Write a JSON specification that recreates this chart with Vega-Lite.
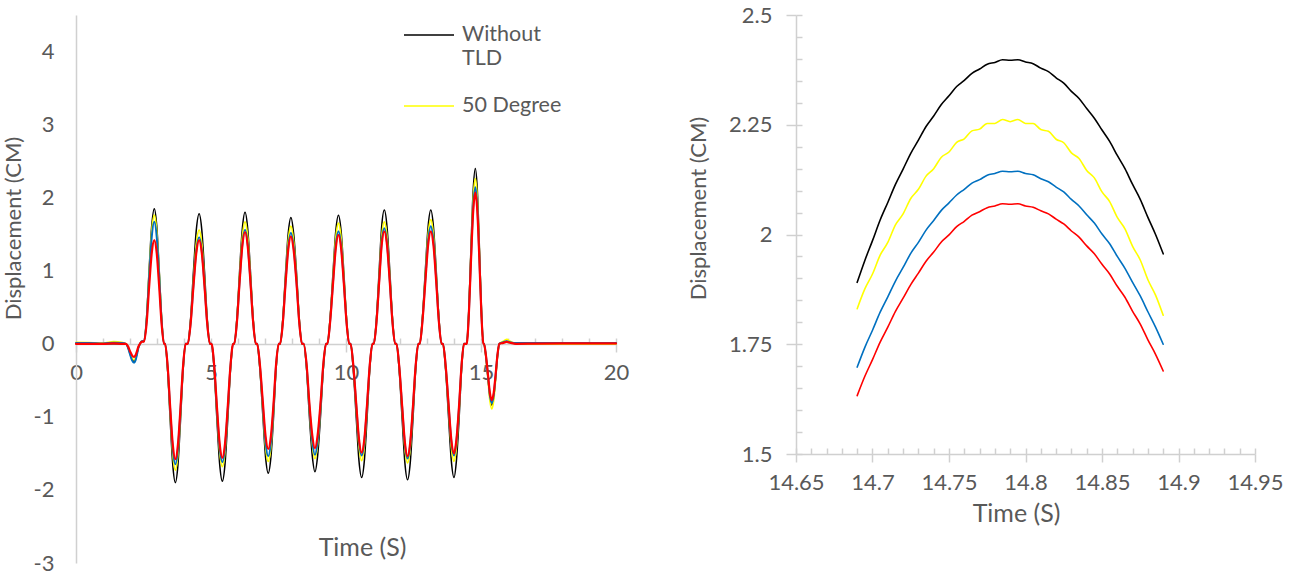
{
  "$schema": "https://vega.github.io/schema/vega-lite/v6.json",
  "background": "white",
  "padding": {"left": 2, "top": 4, "right": 5, "bottom": 5},
  "config": {
    "font": "Lato",
    "view": {"stroke": null},
    "axis": {
      "grid": false,
      "labelFont": "Lato",
      "labelFontSize": 22,
      "labelColor": "#595959",
      "labelFlush": false,
      "labelOverlap": false,
      "titleFont": "Lato",
      "titleFontSize": 22,
      "titleFontWeight": "normal",
      "titleColor": "#595959",
      "domainColor": "#D0D0D0",
      "domainWidth": 1.5,
      "tickColor": "#D0D0D0",
      "tickWidth": 1.5
    },
    "line": {"strokeJoin": "round", "strokeCap": "round"}
  },
  "datasets": {
    "full": [
      {"t": 0, "Without TLD": 0, "50 Degree": 0.02, "Series 3": 0.01, "Series 4": 0},
      {"t": 0.5, "Without TLD": 0, "50 Degree": 0.015, "Series 3": 0.01, "Series 4": 0},
      {"t": 1.0, "Without TLD": 0, "50 Degree": 0.01, "Series 3": 0.005, "Series 4": 0},
      {"t": 1.4, "Without TLD": 0, "50 Degree": 0.03, "Series 3": 0.015, "Series 4": 0.005},
      {"t": 1.7, "Without TLD": 0, "50 Degree": 0.02, "Series 3": 0.01, "Series 4": 0},
      {"t": 1.85, "Without TLD": 0, "50 Degree": 0, "Series 3": 0, "Series 4": 0},
      {"t": 1.925, "Without TLD": -0.047, "50 Degree": -0.043, "Series 3": -0.051, "Series 4": -0.035},
      {"t": 2.0, "Without TLD": -0.133, "50 Degree": -0.122, "Series 3": -0.144, "Series 4": -0.1},
      {"t": 2.075, "Without TLD": -0.21, "50 Degree": -0.192, "Series 3": -0.227, "Series 4": -0.157},
      {"t": 2.15, "Without TLD": -0.24, "50 Degree": -0.22, "Series 3": -0.26, "Series 4": -0.18},
      {"t": 2.205, "Without TLD": -0.21, "50 Degree": -0.192, "Series 3": -0.227, "Series 4": -0.157},
      {"t": 2.26, "Without TLD": -0.133, "50 Degree": -0.122, "Series 3": -0.144, "Series 4": -0.1},
      {"t": 2.315, "Without TLD": -0.047, "50 Degree": -0.043, "Series 3": -0.051, "Series 4": -0.035},
      {"t": 2.37, "Without TLD": 0, "50 Degree": 0, "Series 3": 0, "Series 4": 0},
      {"t": 2.45, "Without TLD": 0.03, "50 Degree": 0.04, "Series 3": 0.04, "Series 4": 0.03},
      {"t": 2.52, "Without TLD": 0.03, "50 Degree": 0.04, "Series 3": 0.04, "Series 4": 0.03},
      {"t": 2.615, "Without TLD": 0.363, "50 Degree": 0.345, "Series 3": 0.327, "Series 4": 0.278},
      {"t": 2.71, "Without TLD": 1.027, "50 Degree": 0.977, "Series 3": 0.927, "Series 4": 0.788},
      {"t": 2.805, "Without TLD": 1.617, "50 Degree": 1.538, "Series 3": 1.46, "Series 4": 1.241},
      {"t": 2.9, "Without TLD": 1.85, "50 Degree": 1.76, "Series 3": 1.67, "Series 4": 1.42},
      {"t": 2.99, "Without TLD": 1.617, "50 Degree": 1.538, "Series 3": 1.46, "Series 4": 1.241},
      {"t": 3.08, "Without TLD": 1.027, "50 Degree": 0.977, "Series 3": 0.927, "Series 4": 0.788},
      {"t": 3.17, "Without TLD": 0.363, "50 Degree": 0.345, "Series 3": 0.327, "Series 4": 0.278},
      {"t": 3.26, "Without TLD": 0, "50 Degree": 0, "Series 3": 0, "Series 4": 0},
      {"t": 3.3, "Without TLD": 0, "50 Degree": 0, "Series 3": 0, "Series 4": 0},
      {"t": 3.395, "Without TLD": -0.372, "50 Degree": -0.339, "Series 3": -0.323, "Series 4": -0.31},
      {"t": 3.49, "Without TLD": -1.055, "50 Degree": -0.96, "Series 3": -0.916, "Series 4": -0.877},
      {"t": 3.585, "Without TLD": -1.661, "50 Degree": -1.512, "Series 3": -1.442, "Series 4": -1.381},
      {"t": 3.68, "Without TLD": -1.9, "50 Degree": -1.73, "Series 3": -1.65, "Series 4": -1.58},
      {"t": 3.775, "Without TLD": -1.661, "50 Degree": -1.512, "Series 3": -1.442, "Series 4": -1.381},
      {"t": 3.87, "Without TLD": -1.055, "50 Degree": -0.96, "Series 3": -0.916, "Series 4": -0.877},
      {"t": 3.965, "Without TLD": -0.372, "50 Degree": -0.339, "Series 3": -0.323, "Series 4": -0.31},
      {"t": 4.06, "Without TLD": 0, "50 Degree": 0, "Series 3": 0, "Series 4": 0},
      {"t": 4.14, "Without TLD": 0, "50 Degree": 0, "Series 3": 0, "Series 4": 0},
      {"t": 4.245, "Without TLD": 0.349, "50 Degree": 0.306, "Series 3": 0.286, "Series 4": 0.278},
      {"t": 4.35, "Without TLD": 0.988, "50 Degree": 0.866, "Series 3": 0.81, "Series 4": 0.788},
      {"t": 4.455, "Without TLD": 1.556, "50 Degree": 1.363, "Series 3": 1.276, "Series 4": 1.241},
      {"t": 4.56, "Without TLD": 1.78, "50 Degree": 1.56, "Series 3": 1.46, "Series 4": 1.42},
      {"t": 4.66, "Without TLD": 1.556, "50 Degree": 1.363, "Series 3": 1.276, "Series 4": 1.241},
      {"t": 4.76, "Without TLD": 0.988, "50 Degree": 0.866, "Series 3": 0.81, "Series 4": 0.788},
      {"t": 4.86, "Without TLD": 0.349, "50 Degree": 0.306, "Series 3": 0.286, "Series 4": 0.278},
      {"t": 4.96, "Without TLD": 0, "50 Degree": 0, "Series 3": 0, "Series 4": 0},
      {"t": 5.02, "Without TLD": 0, "50 Degree": 0, "Series 3": 0, "Series 4": 0},
      {"t": 5.12, "Without TLD": -0.368, "50 Degree": -0.329, "Series 3": -0.318, "Series 4": -0.306},
      {"t": 5.22, "Without TLD": -1.043, "50 Degree": -0.932, "Series 3": -0.899, "Series 4": -0.866},
      {"t": 5.32, "Without TLD": -1.643, "50 Degree": -1.468, "Series 3": -1.416, "Series 4": -1.363},
      {"t": 5.42, "Without TLD": -1.88, "50 Degree": -1.68, "Series 3": -1.62, "Series 4": -1.56},
      {"t": 5.52, "Without TLD": -1.643, "50 Degree": -1.468, "Series 3": -1.416, "Series 4": -1.363},
      {"t": 5.62, "Without TLD": -1.043, "50 Degree": -0.932, "Series 3": -0.899, "Series 4": -0.866},
      {"t": 5.72, "Without TLD": -0.368, "50 Degree": -0.329, "Series 3": -0.318, "Series 4": -0.306},
      {"t": 5.82, "Without TLD": 0, "50 Degree": 0, "Series 3": 0, "Series 4": 0},
      {"t": 5.86, "Without TLD": 0, "50 Degree": 0, "Series 3": 0, "Series 4": 0},
      {"t": 5.96, "Without TLD": 0.353, "50 Degree": 0.327, "Series 3": 0.306, "Series 4": 0.3},
      {"t": 6.06, "Without TLD": 0.999, "50 Degree": 0.927, "Series 3": 0.866, "Series 4": 0.849},
      {"t": 6.16, "Without TLD": 1.573, "50 Degree": 1.46, "Series 3": 1.363, "Series 4": 1.337},
      {"t": 6.26, "Without TLD": 1.8, "50 Degree": 1.67, "Series 3": 1.56, "Series 4": 1.53},
      {"t": 6.36, "Without TLD": 1.573, "50 Degree": 1.46, "Series 3": 1.363, "Series 4": 1.337},
      {"t": 6.46, "Without TLD": 0.999, "50 Degree": 0.927, "Series 3": 0.866, "Series 4": 0.849},
      {"t": 6.56, "Without TLD": 0.353, "50 Degree": 0.327, "Series 3": 0.306, "Series 4": 0.3},
      {"t": 6.66, "Without TLD": 0, "50 Degree": 0, "Series 3": 0, "Series 4": 0},
      {"t": 6.71, "Without TLD": 0, "50 Degree": 0, "Series 3": 0, "Series 4": 0},
      {"t": 6.81, "Without TLD": -0.347, "50 Degree": -0.316, "Series 3": -0.302, "Series 4": -0.282},
      {"t": 6.92, "Without TLD": -0.982, "50 Degree": -0.894, "Series 3": -0.855, "Series 4": -0.799},
      {"t": 7.02, "Without TLD": -1.547, "50 Degree": -1.407, "Series 3": -1.346, "Series 4": -1.259},
      {"t": 7.12, "Without TLD": -1.77, "50 Degree": -1.61, "Series 3": -1.54, "Series 4": -1.44},
      {"t": 7.22, "Without TLD": -1.547, "50 Degree": -1.407, "Series 3": -1.346, "Series 4": -1.259},
      {"t": 7.32, "Without TLD": -0.982, "50 Degree": -0.894, "Series 3": -0.855, "Series 4": -0.799},
      {"t": 7.41, "Without TLD": -0.347, "50 Degree": -0.316, "Series 3": -0.302, "Series 4": -0.282},
      {"t": 7.51, "Without TLD": 0, "50 Degree": 0, "Series 3": 0, "Series 4": 0},
      {"t": 7.56, "Without TLD": 0, "50 Degree": 0, "Series 3": 0, "Series 4": 0},
      {"t": 7.66, "Without TLD": 0.339, "50 Degree": 0.316, "Series 3": 0.298, "Series 4": 0.288},
      {"t": 7.76, "Without TLD": 0.96, "50 Degree": 0.894, "Series 3": 0.844, "Series 4": 0.816},
      {"t": 7.86, "Without TLD": 1.512, "50 Degree": 1.407, "Series 3": 1.328, "Series 4": 1.285},
      {"t": 7.96, "Without TLD": 1.73, "50 Degree": 1.61, "Series 3": 1.52, "Series 4": 1.47},
      {"t": 8.06, "Without TLD": 1.512, "50 Degree": 1.407, "Series 3": 1.328, "Series 4": 1.285},
      {"t": 8.17, "Without TLD": 0.96, "50 Degree": 0.894, "Series 3": 0.844, "Series 4": 0.816},
      {"t": 8.27, "Without TLD": 0.339, "50 Degree": 0.316, "Series 3": 0.298, "Series 4": 0.288},
      {"t": 8.37, "Without TLD": 0, "50 Degree": 0, "Series 3": 0, "Series 4": 0},
      {"t": 8.43, "Without TLD": 0, "50 Degree": 0, "Series 3": 0, "Series 4": 0},
      {"t": 8.54, "Without TLD": -0.343, "50 Degree": -0.308, "Series 3": -0.298, "Series 4": -0.28},
      {"t": 8.64, "Without TLD": -0.971, "50 Degree": -0.871, "Series 3": -0.844, "Series 4": -0.794},
      {"t": 8.75, "Without TLD": -1.53, "50 Degree": -1.372, "Series 3": -1.328, "Series 4": -1.25},
      {"t": 8.85, "Without TLD": -1.75, "50 Degree": -1.57, "Series 3": -1.52, "Series 4": -1.43},
      {"t": 8.95, "Without TLD": -1.53, "50 Degree": -1.372, "Series 3": -1.328, "Series 4": -1.25},
      {"t": 9.06, "Without TLD": -0.971, "50 Degree": -0.871, "Series 3": -0.844, "Series 4": -0.794},
      {"t": 9.16, "Without TLD": -0.343, "50 Degree": -0.308, "Series 3": -0.298, "Series 4": -0.28},
      {"t": 9.26, "Without TLD": 0, "50 Degree": 0, "Series 3": 0, "Series 4": 0},
      {"t": 9.31, "Without TLD": 0, "50 Degree": 0, "Series 3": 0, "Series 4": 0},
      {"t": 9.41, "Without TLD": 0.345, "50 Degree": 0.323, "Series 3": 0.302, "Series 4": 0.292},
      {"t": 9.52, "Without TLD": 0.977, "50 Degree": 0.916, "Series 3": 0.855, "Series 4": 0.827},
      {"t": 9.62, "Without TLD": 1.538, "50 Degree": 1.442, "Series 3": 1.346, "Series 4": 1.302},
      {"t": 9.72, "Without TLD": 1.76, "50 Degree": 1.65, "Series 3": 1.54, "Series 4": 1.49},
      {"t": 9.82, "Without TLD": 1.538, "50 Degree": 1.442, "Series 3": 1.346, "Series 4": 1.302},
      {"t": 9.92, "Without TLD": 0.977, "50 Degree": 0.916, "Series 3": 0.855, "Series 4": 0.827},
      {"t": 10.02, "Without TLD": 0.345, "50 Degree": 0.323, "Series 3": 0.302, "Series 4": 0.292},
      {"t": 10.12, "Without TLD": 0, "50 Degree": 0, "Series 3": 0, "Series 4": 0},
      {"t": 10.17, "Without TLD": 0, "50 Degree": 0, "Series 3": 0, "Series 4": 0},
      {"t": 10.27, "Without TLD": -0.359, "50 Degree": -0.314, "Series 3": -0.3, "Series 4": -0.292},
      {"t": 10.38, "Without TLD": -1.016, "50 Degree": -0.888, "Series 3": -0.849, "Series 4": -0.827},
      {"t": 10.48, "Without TLD": -1.599, "50 Degree": -1.398, "Series 3": -1.337, "Series 4": -1.302},
      {"t": 10.58, "Without TLD": -1.83, "50 Degree": -1.6, "Series 3": -1.53, "Series 4": -1.49},
      {"t": 10.68, "Without TLD": -1.599, "50 Degree": -1.398, "Series 3": -1.337, "Series 4": -1.302},
      {"t": 10.78, "Without TLD": -1.016, "50 Degree": -0.888, "Series 3": -0.849, "Series 4": -0.827},
      {"t": 10.88, "Without TLD": -0.359, "50 Degree": -0.314, "Series 3": -0.3, "Series 4": -0.292},
      {"t": 10.98, "Without TLD": 0, "50 Degree": 0, "Series 3": 0, "Series 4": 0},
      {"t": 11.03, "Without TLD": 0, "50 Degree": 0, "Series 3": 0, "Series 4": 0},
      {"t": 11.13, "Without TLD": 0.359, "50 Degree": 0.327, "Series 3": 0.31, "Series 4": 0.302},
      {"t": 11.23, "Without TLD": 1.016, "50 Degree": 0.927, "Series 3": 0.877, "Series 4": 0.855},
      {"t": 11.32, "Without TLD": 1.599, "50 Degree": 1.46, "Series 3": 1.381, "Series 4": 1.346},
      {"t": 11.42, "Without TLD": 1.83, "50 Degree": 1.67, "Series 3": 1.58, "Series 4": 1.54},
      {"t": 11.52, "Without TLD": 1.599, "50 Degree": 1.46, "Series 3": 1.381, "Series 4": 1.346},
      {"t": 11.62, "Without TLD": 1.016, "50 Degree": 0.927, "Series 3": 0.877, "Series 4": 0.855},
      {"t": 11.72, "Without TLD": 0.359, "50 Degree": 0.327, "Series 3": 0.31, "Series 4": 0.302},
      {"t": 11.82, "Without TLD": 0, "50 Degree": 0, "Series 3": 0, "Series 4": 0},
      {"t": 11.87, "Without TLD": 0, "50 Degree": 0, "Series 3": 0, "Series 4": 0},
      {"t": 11.97, "Without TLD": -0.365, "50 Degree": -0.319, "Series 3": -0.308, "Series 4": -0.302},
      {"t": 12.08, "Without TLD": -1.032, "50 Degree": -0.905, "Series 3": -0.871, "Series 4": -0.855},
      {"t": 12.18, "Without TLD": -1.626, "50 Degree": -1.425, "Series 3": -1.372, "Series 4": -1.346},
      {"t": 12.28, "Without TLD": -1.86, "50 Degree": -1.63, "Series 3": -1.57, "Series 4": -1.54},
      {"t": 12.38, "Without TLD": -1.626, "50 Degree": -1.425, "Series 3": -1.372, "Series 4": -1.346},
      {"t": 12.48, "Without TLD": -1.032, "50 Degree": -0.905, "Series 3": -0.871, "Series 4": -0.855},
      {"t": 12.58, "Without TLD": -0.365, "50 Degree": -0.319, "Series 3": -0.308, "Series 4": -0.302},
      {"t": 12.68, "Without TLD": 0, "50 Degree": 0, "Series 3": 0, "Series 4": 0},
      {"t": 12.73, "Without TLD": 0, "50 Degree": 0, "Series 3": 0, "Series 4": 0},
      {"t": 12.83, "Without TLD": 0.359, "50 Degree": 0.333, "Series 3": 0.316, "Series 4": 0.302},
      {"t": 12.94, "Without TLD": 1.016, "50 Degree": 0.944, "Series 3": 0.894, "Series 4": 0.855},
      {"t": 13.04, "Without TLD": 1.599, "50 Degree": 1.486, "Series 3": 1.407, "Series 4": 1.346},
      {"t": 13.14, "Without TLD": 1.83, "50 Degree": 1.7, "Series 3": 1.61, "Series 4": 1.54},
      {"t": 13.24, "Without TLD": 1.599, "50 Degree": 1.486, "Series 3": 1.407, "Series 4": 1.346},
      {"t": 13.34, "Without TLD": 1.016, "50 Degree": 0.944, "Series 3": 0.894, "Series 4": 0.855},
      {"t": 13.44, "Without TLD": 0.359, "50 Degree": 0.333, "Series 3": 0.316, "Series 4": 0.302},
      {"t": 13.54, "Without TLD": 0, "50 Degree": 0, "Series 3": 0, "Series 4": 0},
      {"t": 13.59, "Without TLD": 0, "50 Degree": 0, "Series 3": 0, "Series 4": 0},
      {"t": 13.69, "Without TLD": -0.359, "50 Degree": -0.316, "Series 3": -0.3, "Series 4": -0.294},
      {"t": 13.8, "Without TLD": -1.016, "50 Degree": -0.894, "Series 3": -0.849, "Series 4": -0.833},
      {"t": 13.9, "Without TLD": -1.599, "50 Degree": -1.407, "Series 3": -1.337, "Series 4": -1.311},
      {"t": 14.0, "Without TLD": -1.83, "50 Degree": -1.61, "Series 3": -1.53, "Series 4": -1.5},
      {"t": 14.09, "Without TLD": -1.599, "50 Degree": -1.407, "Series 3": -1.337, "Series 4": -1.311},
      {"t": 14.19, "Without TLD": -1.016, "50 Degree": -0.894, "Series 3": -0.849, "Series 4": -0.833},
      {"t": 14.28, "Without TLD": -0.359, "50 Degree": -0.316, "Series 3": -0.3, "Series 4": -0.294},
      {"t": 14.37, "Without TLD": 0, "50 Degree": 0, "Series 3": 0, "Series 4": 0},
      {"t": 14.47, "Without TLD": 0, "50 Degree": 0, "Series 3": 0, "Series 4": 0},
      {"t": 14.55, "Without TLD": 0.47, "50 Degree": 0.443, "Series 3": 0.42, "Series 4": 0.406},
      {"t": 14.63, "Without TLD": 1.332, "50 Degree": 1.254, "Series 3": 1.19, "Series 4": 1.149},
      {"t": 14.71, "Without TLD": 2.098, "50 Degree": 1.975, "Series 3": 1.874, "Series 4": 1.809},
      {"t": 14.79, "Without TLD": 2.398, "50 Degree": 2.26, "Series 3": 2.144, "Series 4": 2.07},
      {"t": 14.865, "Without TLD": 2.098, "50 Degree": 1.975, "Series 3": 1.874, "Series 4": 1.809},
      {"t": 14.94, "Without TLD": 1.332, "50 Degree": 1.254, "Series 3": 1.19, "Series 4": 1.149},
      {"t": 15.015, "Without TLD": 0.47, "50 Degree": 0.443, "Series 3": 0.42, "Series 4": 0.406},
      {"t": 15.09, "Without TLD": 0, "50 Degree": 0, "Series 3": 0, "Series 4": 0},
      {"t": 15.11, "Without TLD": 0, "50 Degree": 0, "Series 3": 0, "Series 4": 0},
      {"t": 15.18, "Without TLD": -0.165, "50 Degree": -0.174, "Series 3": -0.159, "Series 4": -0.151},
      {"t": 15.26, "Without TLD": -0.466, "50 Degree": -0.494, "Series 3": -0.45, "Series 4": -0.427},
      {"t": 15.33, "Without TLD": -0.734, "50 Degree": -0.778, "Series 3": -0.708, "Series 4": -0.673},
      {"t": 15.4, "Without TLD": -0.84, "50 Degree": -0.89, "Series 3": -0.81, "Series 4": -0.77},
      {"t": 15.47, "Without TLD": -0.734, "50 Degree": -0.778, "Series 3": -0.708, "Series 4": -0.673},
      {"t": 15.54, "Without TLD": -0.466, "50 Degree": -0.494, "Series 3": -0.45, "Series 4": -0.427},
      {"t": 15.61, "Without TLD": -0.165, "50 Degree": -0.174, "Series 3": -0.159, "Series 4": -0.151},
      {"t": 15.68, "Without TLD": 0, "50 Degree": 0, "Series 3": 0, "Series 4": 0},
      {"t": 15.8, "Without TLD": 0.015, "50 Degree": 0.03, "Series 3": 0.02, "Series 4": 0.01},
      {"t": 15.95, "Without TLD": 0.03, "50 Degree": 0.06, "Series 3": 0.035, "Series 4": 0.025},
      {"t": 16.1, "Without TLD": 0.015, "50 Degree": 0.03, "Series 3": 0.02, "Series 4": 0.012},
      {"t": 16.3, "Without TLD": 0, "50 Degree": 0.005, "Series 3": 0.01, "Series 4": 0},
      {"t": 17, "Without TLD": 0, "50 Degree": 0, "Series 3": 0.01, "Series 4": 0.003},
      {"t": 18, "Without TLD": 0, "50 Degree": 0, "Series 3": 0.01, "Series 4": 0.005},
      {"t": 19, "Without TLD": 0, "50 Degree": 0, "Series 3": 0.01, "Series 4": 0.005},
      {"t": 20, "Without TLD": 0, "50 Degree": 0, "Series 3": 0.01, "Series 4": 0.005}
    ],
    "zoom": [
      {"t": 14.69, "Without TLD": 1.891, "50 Degree": 1.831, "Series 3": 1.698, "Series 4": 1.633},
      {"t": 14.695, "Without TLD": 1.941, "50 Degree": 1.876, "Series 3": 1.743, "Series 4": 1.677},
      {"t": 14.7, "Without TLD": 1.986, "50 Degree": 1.91, "Series 3": 1.782, "Series 4": 1.715},
      {"t": 14.705, "Without TLD": 2.033, "50 Degree": 1.953, "Series 3": 1.823, "Series 4": 1.755},
      {"t": 14.71, "Without TLD": 2.073, "50 Degree": 1.982, "Series 3": 1.858, "Series 4": 1.789},
      {"t": 14.715, "Without TLD": 2.114, "50 Degree": 2.022, "Series 3": 1.894, "Series 4": 1.825},
      {"t": 14.72, "Without TLD": 2.149, "50 Degree": 2.047, "Series 3": 1.925, "Series 4": 1.855},
      {"t": 14.725, "Without TLD": 2.185, "50 Degree": 2.082, "Series 3": 1.957, "Series 4": 1.886},
      {"t": 14.73, "Without TLD": 2.215, "50 Degree": 2.103, "Series 3": 1.982, "Series 4": 1.912},
      {"t": 14.735, "Without TLD": 2.246, "50 Degree": 2.133, "Series 3": 2.01, "Series 4": 1.939},
      {"t": 14.74, "Without TLD": 2.27, "50 Degree": 2.15, "Series 3": 2.032, "Series 4": 1.96},
      {"t": 14.745, "Without TLD": 2.296, "50 Degree": 2.176, "Series 3": 2.055, "Series 4": 1.983},
      {"t": 14.75, "Without TLD": 2.316, "50 Degree": 2.188, "Series 3": 2.072, "Series 4": 1.999},
      {"t": 14.755, "Without TLD": 2.337, "50 Degree": 2.21, "Series 3": 2.09, "Series 4": 2.018},
      {"t": 14.76, "Without TLD": 2.351, "50 Degree": 2.218, "Series 3": 2.103, "Series 4": 2.03},
      {"t": 14.765, "Without TLD": 2.367, "50 Degree": 2.236, "Series 3": 2.117, "Series 4": 2.044},
      {"t": 14.77, "Without TLD": 2.377, "50 Degree": 2.24, "Series 3": 2.125, "Series 4": 2.052},
      {"t": 14.775, "Without TLD": 2.388, "50 Degree": 2.253, "Series 3": 2.135, "Series 4": 2.061},
      {"t": 14.78, "Without TLD": 2.392, "50 Degree": 2.253, "Series 3": 2.139, "Series 4": 2.065},
      {"t": 14.785, "Without TLD": 2.398, "50 Degree": 2.262, "Series 3": 2.144, "Series 4": 2.07},
      {"t": 14.79, "Without TLD": 2.397, "50 Degree": 2.257, "Series 3": 2.143, "Series 4": 2.069},
      {"t": 14.795, "Without TLD": 2.398, "50 Degree": 2.262, "Series 3": 2.144, "Series 4": 2.07},
      {"t": 14.8, "Without TLD": 2.393, "50 Degree": 2.253, "Series 3": 2.139, "Series 4": 2.065},
      {"t": 14.805, "Without TLD": 2.389, "50 Degree": 2.253, "Series 3": 2.136, "Series 4": 2.062},
      {"t": 14.81, "Without TLD": 2.379, "50 Degree": 2.239, "Series 3": 2.127, "Series 4": 2.054},
      {"t": 14.815, "Without TLD": 2.371, "50 Degree": 2.235, "Series 3": 2.12, "Series 4": 2.047},
      {"t": 14.82, "Without TLD": 2.357, "50 Degree": 2.217, "Series 3": 2.108, "Series 4": 2.035},
      {"t": 14.825, "Without TLD": 2.345, "50 Degree": 2.209, "Series 3": 2.097, "Series 4": 2.024},
      {"t": 14.83, "Without TLD": 2.326, "50 Degree": 2.186, "Series 3": 2.08, "Series 4": 2.008},
      {"t": 14.835, "Without TLD": 2.31, "50 Degree": 2.173, "Series 3": 2.065, "Series 4": 1.994},
      {"t": 14.84, "Without TLD": 2.287, "50 Degree": 2.146, "Series 3": 2.045, "Series 4": 1.974},
      {"t": 14.845, "Without TLD": 2.265, "50 Degree": 2.129, "Series 3": 2.026, "Series 4": 1.956},
      {"t": 14.85, "Without TLD": 2.238, "50 Degree": 2.097, "Series 3": 2.001, "Series 4": 1.932},
      {"t": 14.855, "Without TLD": 2.212, "50 Degree": 2.075, "Series 3": 1.979, "Series 4": 1.91},
      {"t": 14.86, "Without TLD": 2.18, "50 Degree": 2.039, "Series 3": 1.95, "Series 4": 1.882},
      {"t": 14.865, "Without TLD": 2.15, "50 Degree": 2.013, "Series 3": 1.923, "Series 4": 1.857},
      {"t": 14.87, "Without TLD": 2.114, "50 Degree": 1.973, "Series 3": 1.891, "Series 4": 1.825},
      {"t": 14.875, "Without TLD": 2.08, "50 Degree": 1.942, "Series 3": 1.86, "Series 4": 1.796},
      {"t": 14.88, "Without TLD": 2.039, "50 Degree": 1.897, "Series 3": 1.824, "Series 4": 1.76},
      {"t": 14.885, "Without TLD": 2.0, "50 Degree": 1.862, "Series 3": 1.789, "Series 4": 1.727},
      {"t": 14.89, "Without TLD": 1.956, "50 Degree": 1.816, "Series 3": 1.75, "Series 4": 1.689}
    ]
  },
  "spacing": 180,
  "bounds": "flush",
  "resolve": {"scale": {"color": "independent", "strokeWidth": "independent"}, "legend": {"color": "independent"}},
  "hconcat": [
    {
      "width": 540,
      "height": 548,
      "layer": [
        {
          "data": {"name": "full"},
          "transform": [{"fold": ["Without TLD", "50 Degree", "Series 3", "Series 4"], "as": ["series", "disp"]}],
          "mark": {"type": "line", "interpolate": "monotone"},
          "encoding": {
            "x": {
              "field": "t", "type": "quantitative",
              "scale": {"domain": [0, 20], "nice": false, "zero": false},
              "axis": {"orient": "bottom", "offset": -219, "values": [0, 5, 10, 15, 20], "labelExpr": "'' + datum.value", "tickSize": 8, "labelPadding": 10, "title": "Time (S)", "titleFontSize": 25, "titleX": 286, "titlePadding": 152}
            },
            "y": {
              "field": "disp", "type": "quantitative",
              "scale": {"domain": [-3, 4.5], "nice": false, "zero": false},
              "axis": {"values": [-3, -2, -1, 0, 1, 2, 3, 4], "labelExpr": "'' + datum.value", "ticks": false, "labelPadding": 22, "title": "Displacement (CM)", "titleY": 213, "titlePadding": 8}
            },
            "color": {
              "field": "series", "type": "nominal",
              "scale": {"domain": ["Without TLD", "50 Degree", "Series 3", "Series 4"], "range": ["#000000", "#FFFF00", "#0070C0", "#FF0000"]},
              "legend": {
                "orient": "none", "legendX": 327, "legendY": -6,
                "values": ["Without TLD", "50 Degree"],
                "title": null, "padding": 0,
                "symbolType": "stroke", "symbolSize": 2500, "symbolStrokeWidth": 1.5,
                "labelFont": "Lato", "labelFontSize": 21.5, "labelColor": "#595959", "labelOffset": 7,
                "labelExpr": "datum.label == 'Without TLD' ? ['Without', 'TLD'] : datum.label",
                "rowPadding": 11
              }
            },
            "strokeWidth": {
              "field": "series", "type": "nominal",
              "scale": {"domain": ["Without TLD", "50 Degree", "Series 3", "Series 4"], "range": [1.5, 2.2, 2.2, 2.4]},
              "legend": null
            }
          }
        },
        {
          "data": {"values": [{}]},
          "mark": {"type": "rule", "opacity": 0},
          "encoding": {
            "x": {
              "datum": 0, "type": "quantitative",
              "axis": {"orient": "bottom", "offset": -219, "values": [1, 2, 3, 4, 5, 6, 7, 8, 9, 10, 11, 12, 13, 14, 15, 16, 17, 18, 19, 20], "tickSize": -6, "labels": false, "domain": false, "title": null}
            }
          }
        }
      ],
      "resolve": {"axis": {"x": "independent"}}
    },
    {
      "width": 459,
      "height": 439,
      "layer": [
        {
          "data": {"name": "zoom"},
          "transform": [{"fold": ["Without TLD", "50 Degree", "Series 3", "Series 4"], "as": ["series", "disp"]}],
          "mark": {"type": "line", "interpolate": "monotone", "strokeWidth": 1.6},
          "encoding": {
            "x": {
              "field": "t", "type": "quantitative",
              "scale": {"domain": [14.65, 14.95], "nice": false, "zero": false},
              "axis": {"orient": "bottom", "values": [14.65, 14.7, 14.75, 14.8, 14.85, 14.9, 14.95], "labelExpr": "'' + datum.value", "tickSize": 8, "labelPadding": 10, "title": "Time (S)", "titleFontSize": 25, "titleX": 220, "titlePadding": 8}
            },
            "y": {
              "field": "disp", "type": "quantitative",
              "scale": {"domain": [1.5, 2.5], "nice": false, "zero": false},
              "axis": {"orient": "left", "values": [1.5, 1.75, 2, 2.25, 2.5], "labelExpr": "'' + datum.value", "tickSize": 10, "labelPadding": 14, "title": "Displacement (CM)", "titleY": 193, "titlePadding": 18}
            },
            "color": {
              "field": "series", "type": "nominal",
              "scale": {"domain": ["Without TLD", "50 Degree", "Series 3", "Series 4"], "range": ["#000000", "#FFFF00", "#0070C0", "#FF0000"]},
              "legend": null
            }
          }
        },
        {
          "data": {"values": [{}]},
          "mark": {"type": "point", "opacity": 0},
          "encoding": {
            "x": {
              "datum": 14.8, "type": "quantitative",
              "axis": {"orient": "bottom", "values": [14.65, 14.66, 14.67, 14.68, 14.69, 14.7, 14.71, 14.72, 14.73, 14.74, 14.75, 14.76, 14.77, 14.78, 14.79, 14.8, 14.81, 14.82, 14.83, 14.84, 14.85, 14.86, 14.87, 14.88, 14.89, 14.9, 14.91, 14.92, 14.93, 14.94, 14.95], "tickSize": -6, "labels": false, "domain": false, "title": null}
            },
            "y": {
              "datum": 2, "type": "quantitative",
              "axis": {"orient": "left", "values": [1.5, 1.55, 1.6, 1.65, 1.7, 1.75, 1.8, 1.85, 1.9, 1.95, 2, 2.05, 2.1, 2.15, 2.2, 2.25, 2.3, 2.35, 2.4, 2.45, 2.5], "tickSize": -6, "labels": false, "domain": false, "title": null}
            }
          }
        }
      ],
      "resolve": {"axis": {"x": "independent", "y": "independent"}}
    }
  ]
}
